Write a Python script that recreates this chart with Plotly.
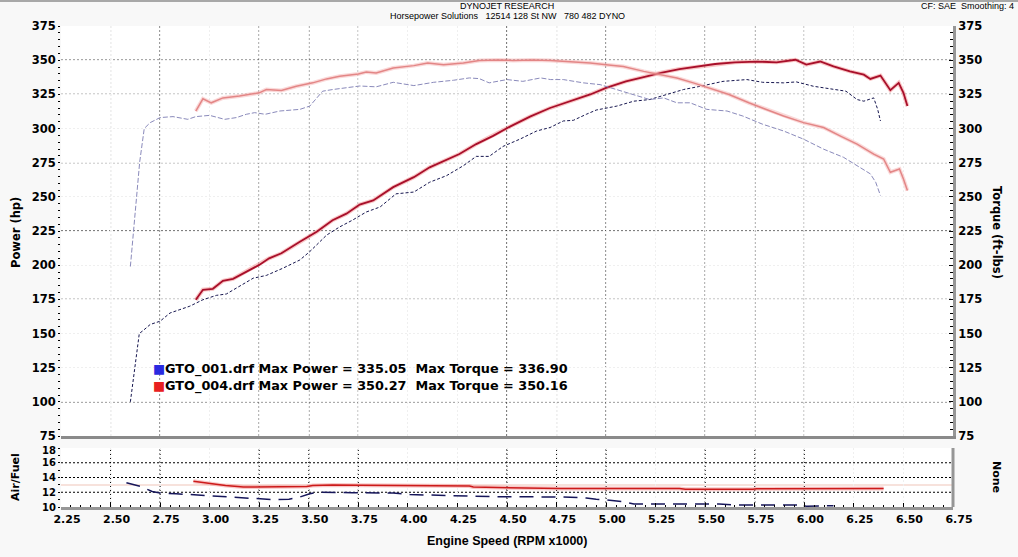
import plotly.graph_objects as go

# ---------------- data ----------------
# GTO_001 (blue) power, hp
blue_pw_rpm = [2.60, 2.625, 2.645, 2.663, 2.70, 2.75, 2.80, 2.85, 2.90, 2.966, 3.034, 3.084, 3.15, 3.22,
               3.286, 3.37, 3.455, 3.505, 3.59, 3.656, 3.72, 3.79, 3.86, 3.94, 4.03, 4.11, 4.195, 4.28,
               4.345, 4.41, 4.48, 4.565, 4.65, 4.717, 4.784, 4.835, 4.90, 4.95, 5.054, 5.14, 5.22, 5.31,
               5.39, 5.475, 5.59, 5.71, 5.79, 5.895, 5.96, 6.046, 6.147, 6.21, 6.266, 6.30, 6.35, 6.37, 6.384]
blue_pw_hp = [100, 130, 150, 152, 156.6, 159, 165, 167.5, 170, 174.7, 177.9, 178.9, 184.5, 190.5,
              192.5, 197.8, 203.8, 209.9, 222, 228, 232.9, 238.9, 242.6, 252.2, 253.5, 260.7, 265.5, 272.8,
              279.6, 279.6, 286.9, 292.2, 298.2, 300.7, 305.5, 306, 310.4, 313.5, 316.4, 320, 321.2, 324.9,
              328.5, 330.9, 334.5, 335.8, 333.8, 333.4, 334.1, 330.9, 328.5, 327.3, 321.2, 320, 322.4, 314, 305.5]

# GTO_001 (blue) torque, ft-lbs
blue_tq_rpm = [2.60, 2.647, 2.67, 2.70, 2.75, 2.815, 2.89, 2.93, 3.00, 3.076, 3.135, 3.185, 3.227, 3.28,
               3.354, 3.455, 3.505, 3.57, 3.62, 3.69, 3.757, 3.84, 3.926, 4.03, 4.13, 4.23, 4.31, 4.36,
               4.41, 4.50, 4.58, 4.67, 4.72, 4.784, 4.885, 4.97, 5.054, 5.14, 5.22, 5.29, 5.357, 5.424,
               5.508, 5.61, 5.69, 5.79, 5.895, 5.996, 6.097, 6.198, 6.266, 6.333, 6.36, 6.384]
blue_tq = [199, 275.5, 300, 304.3, 308, 308.7, 306.7, 308.7, 309.6, 306.7, 308, 310.4, 311.6, 310.4,
           312.8, 314, 316.4, 327.3, 328.5, 329.7, 331.1, 330.5, 333.8, 331.4, 333.8, 335.3, 337, 336.5,
           333.4, 335.8, 334.5, 337, 335.8, 335.8, 333.4, 332.1, 328.5, 325, 321.2, 322.4, 318.8, 318.8,
           314, 312.8, 309.1, 303.1, 298.2, 292.2, 284.9, 278.9, 272.8, 266.8, 260.7, 251]

# GTO_004 (red) power, hp
red_pw_rpm = [2.93, 2.966, 3.016, 3.067, 3.118, 3.185, 3.25, 3.30, 3.362, 3.455, 3.54, 3.62, 3.69, 3.757,
              3.825, 3.926, 4.03, 4.11, 4.18, 4.26, 4.345, 4.43, 4.515, 4.616, 4.717, 4.82, 4.92, 5.00,
              5.10, 5.205, 5.27, 5.37, 5.47, 5.55, 5.65, 5.76, 5.86, 5.955, 6.01, 6.08, 6.147, 6.23,
              6.30, 6.333, 6.384, 6.434, 6.476, 6.50, 6.52]
red_pw_hp = [174.7, 182, 182.7, 188.5, 190, 195.4, 200.2, 205, 208.7, 217.2, 224.4, 232.9, 237.7, 244.3,
             247.4, 257.1, 264.4, 271.6, 276.4, 281.3, 288.6, 294.6, 301.4, 308.7, 315, 320, 324.9, 329.7,
             334.5, 338.2, 340.6, 343.5, 345.4, 347.2, 348.4, 349, 348.4, 350.3, 346.7, 349, 345.4, 341.8,
             339.4, 336.3, 338.7, 328, 333.4, 326.1, 316.4]

# GTO_004 (red) torque, ft-lbs
red_tq_rpm = [2.93, 2.966, 3.008, 3.067, 3.15, 3.25, 3.286, 3.362, 3.437, 3.52, 3.59, 3.656, 3.75, 3.79,
              3.84, 3.926, 4.03, 4.10, 4.18, 4.28, 4.36, 4.45, 4.53, 4.63, 4.72, 4.82, 4.92, 5.00,
              5.087, 5.19, 5.27, 5.357, 5.44, 5.515, 5.62, 5.72, 5.81, 5.895, 5.996, 6.097, 6.18, 6.266,
              6.35, 6.40, 6.434, 6.48, 6.50, 6.52]
red_tq = [312.8, 321.7, 318.8, 322.4, 323.7, 326.1, 328.5, 327.8, 330.9, 333.4, 336.3, 338.2, 339.9, 341.4,
          340.6, 344.3, 346, 347.9, 346.7, 347.9, 349.8, 350.2, 349.8, 350.2, 349.8, 349, 347.9, 346.7,
          345.4, 341.8, 339.4, 337, 333.4, 329.7, 324.9, 318.8, 314, 309.1, 304.3, 300.7, 294.6, 288.6,
          281.3, 277.7, 268, 270.4, 263.1, 254.6]

# Air/Fuel
red_afr_rpm = [2.918, 3.016, 3.08, 3.17, 3.286, 3.39, 3.49, 3.52, 3.62, 3.757, 4.31, 4.33, 4.50, 4.75,
               4.77, 5.37, 5.40, 5.74, 5.76, 6.40]
red_afr = [13.5, 13.13, 12.9, 12.7, 12.7, 12.7, 12.78, 12.9, 13.0, 12.95, 12.85, 12.7, 12.65, 12.6,
           12.5, 12.5, 12.4, 12.4, 12.47, 12.5]
blue_afr_rpm = [2.58, 2.65, 2.71, 2.75, 2.83, 2.90, 3.05, 3.185, 3.32, 3.40, 3.455, 3.505, 3.54, 3.72,
                3.926, 4.01, 4.145, 4.36, 4.45, 4.77, 4.90, 4.95, 5.00, 5.087, 5.14, 5.39, 5.57, 5.67,
                5.97, 6.01, 6.147]
blue_afr = [13.3, 12.8, 12.1, 11.9, 11.8, 11.68, 11.45, 11.23, 11.0, 11.05, 11.36, 11.8, 12.0, 11.94,
            11.9, 11.68, 11.58, 11.5, 11.4, 11.36, 11.23, 11.05, 10.96, 10.7, 10.4, 10.4, 10.4, 10.26,
            10.26, 10.1, 10.17]
afr_reference = 13.0

# ticks and grid
x_tick_vals = [2.25, 2.50, 2.75, 3.00, 3.25, 3.50, 3.75, 4.00, 4.25, 4.50, 4.75, 5.00, 5.25,
               5.50, 5.75, 6.00, 6.25, 6.50, 6.75]
x_tick_text = ["2.25", "2.50", "2.75", "3.00", "3.25", "3.50", "3.75", "4.00", "4.25", "4.50",
               "4.75", "5.00", "5.25", "5.50", "5.75", "6.00", "6.25", "6.50", "6.75"]
power_tick_vals = [75, 100, 125, 150, 175, 200, 225, 250, 275, 300, 325, 350, 375]
afr_tick_vals = [10, 12, 14, 16]
afr_top_tick = [18]
dark_x_grid = [2.50, 2.75, 3.25, 3.50, 3.75, 4.50, 4.75, 5.00, 5.50, 5.75, 6.00]
dark_power_grid = [100, 150, 175, 225, 275, 300, 325, 350]
dark_afr_grid = [12, 14, 16]

legend_lines = ["GTO_001.drf Max Power = 335.05\u00a0\u00a0Max Torque = 336.90",
                "GTO_004.drf Max Power = 350.27\u00a0\u00a0Max Torque = 350.16"]
legend_colors = ["#2a2ae0", "#e82020"]

# ---------------- figure ----------------
W, H = 1018, 557
ML, MR, MT, MB = 61, 65, 26, 50
PW, PH = W - ML - MR, H - MT - MB


def px_x(p):
    return (p - ML) / PW


def px_y(p):
    return (H - MB - p) / PH


top_dom = [px_y(436), 1]
low_dom = [0, px_y(448)]

fig = go.Figure()

halo = dict(mode="lines", hoverinfo="skip", showlegend=False)
# red torque (light)
fig.add_trace(go.Scatter(x=red_tq_rpm, y=red_tq, xaxis="x", yaxis="y2",
                         line=dict(color="rgba(245,170,170,0.45)", width=4), **halo))
fig.add_trace(go.Scatter(x=red_tq_rpm, y=red_tq, xaxis="x", yaxis="y2", mode="lines",
                         line=dict(color="#e38686", width=1.5), name="GTO_004 torque"))
# blue torque (light)
fig.add_trace(go.Scatter(x=blue_tq_rpm, y=blue_tq, xaxis="x", yaxis="y2", mode="lines",
                         line=dict(color="#8a8abb", width=1, dash="5px,2px"), name="GTO_001 torque"))
# blue power (dark)
fig.add_trace(go.Scatter(x=blue_pw_rpm, y=blue_pw_hp, xaxis="x", yaxis="y", mode="lines",
                         line=dict(color="#16164f", width=1, dash="3px,2px"), name="GTO_001 power"))
# red power (dark)
fig.add_trace(go.Scatter(x=red_pw_rpm, y=red_pw_hp, xaxis="x", yaxis="y",
                         line=dict(color="rgba(240,110,110,0.4)", width=4), **halo))
fig.add_trace(go.Scatter(x=red_pw_rpm, y=red_pw_hp, xaxis="x", yaxis="y", mode="lines",
                         line=dict(color="#a80f2a", width=1.8), name="GTO_004 power"))
# AFR
fig.add_trace(go.Scatter(x=red_afr_rpm, y=red_afr, xaxis="x2", yaxis="y3",
                         line=dict(color="rgba(240,120,120,0.4)", width=4), **halo))
fig.add_trace(go.Scatter(x=red_afr_rpm, y=red_afr, xaxis="x2", yaxis="y3", mode="lines",
                         line=dict(color="#cc1a1a", width=1.5), name="GTO_004 AFR"))
fig.add_trace(go.Scatter(x=blue_afr_rpm, y=blue_afr, xaxis="x2", yaxis="y4", mode="lines",
                         line=dict(color="#16165a", width=1.5, dash="14px,8px"), name="GTO_001 AFR"))

tick_font = dict(family="DejaVu Sans", size=11.5, color="black", weight="bold")
afr_font = dict(tick_font, size=10)
faint = "#efefef"
gray_bar = "#969696"

fig.update_layout(
    width=W, height=H,
    margin=dict(l=ML, r=MR, t=MT, b=MB),
    paper_bgcolor="#f8f8f8", plot_bgcolor="white",
    showlegend=False,
    xaxis=dict(domain=[0, 1], anchor="y", range=[2.25, 6.75], tickvals=x_tick_vals,
               showticklabels=False, ticks="", showgrid=True, gridcolor=faint, griddash="2px,2px",
               showline=True, linecolor="#8a8a8a", linewidth=3, zeroline=False),
    xaxis2=dict(domain=[0, 1], anchor="y3", range=[2.25, 6.75], tickvals=x_tick_vals,
                ticktext=x_tick_text, ticks="inside", ticklen=4, tickcolor="black", tickwidth=1,
                minor=dict(tick0=2.25, dtick=0.05, ticks="inside", ticklen=2, tickcolor="black",
                           showgrid=False),
                showgrid=True, gridcolor=faint, griddash="2px,2px",
                showline=True, linecolor=gray_bar, linewidth=3, zeroline=False,
                tickfont=dict(family="DejaVu Sans", size=11, color="black", weight="bold"),
                ticklabelshift=6),
    yaxis=dict(domain=top_dom, anchor="x", range=[75, 375], tickvals=power_tick_vals,
               ticks="outside", ticklen=2, tickcolor="black",
               minor=dict(tick0=75, dtick=5, ticks="outside", ticklen=2, tickcolor="black",
                          showgrid=False),
               showgrid=True, gridcolor=faint, griddash="2px,2px", showline=False,
               zeroline=False, tickfont=tick_font),
    yaxis2=dict(overlaying="y", side="right", anchor="x", range=[75, 375],
                tickvals=power_tick_vals, ticks="inside", ticklen=4, tickcolor="black",
                minor=dict(tick0=75, dtick=5, ticks="inside", ticklen=3, tickcolor="black"),
                showgrid=False, showline=True, linecolor=gray_bar, linewidth=3,
                zeroline=False, tickfont=tick_font),
    yaxis3=dict(domain=low_dom, anchor="x2", range=[10, 18], tickvals=afr_tick_vals,
                ticks="outside", ticklen=2, tickcolor="black",
                minor=dict(tick0=10, dtick=1, ticks="outside", ticklen=2, tickcolor="black",
                           showgrid=False),
                showgrid=False, showline=False, zeroline=False, tickfont=afr_font),
    yaxis4=dict(overlaying="y3", side="left", anchor="x2", range=[10, 18], tickvals=afr_top_tick,
                ticks="outside", ticklen=2, tickcolor="black", showgrid=False, showline=False,
                zeroline=False, tickfont=afr_font, ticklabelshift=2),
)

shapes = []
grid_line = dict(color="black", width=1, dash="2px,2px")
for v in dark_x_grid:
    shapes.append(dict(type="line", xref="x", yref="y domain", x0=v, x1=v, y0=0, y1=1,
                       line=grid_line, layer="below"))
    shapes.append(dict(type="line", xref="x2", yref="y3 domain", x0=v, x1=v, y0=0, y1=1,
                       line=grid_line, layer="below"))
for v in dark_power_grid:
    shapes.append(dict(type="line", xref="x domain", yref="y", x0=0, x1=1, y0=v, y1=v,
                       line=grid_line, layer="below"))
for v in dark_afr_grid:
    shapes.append(dict(type="line", xref="x2 domain", yref="y3", x0=0, x1=1, y0=v, y1=v,
                       line=grid_line, layer="below"))
# faint reference line in AFR panel
shapes.append(dict(type="line", xref="x2 domain", yref="y3", x0=0, x1=1, y0=afr_reference,
                   y1=afr_reference, line=dict(color="#f7e2dc", width=2), layer="below"))
# right gray bar of the AFR panel
shapes.append(dict(type="line", xref="x2 domain", yref="y3 domain", x0=1, x1=1, y0=0, y1=1,
                   line=dict(color=gray_bar, width=3)))
# header strip
shapes.append(dict(type="line", xref="paper", yref="paper", x0=px_x(0), x1=px_x(W),
                   y0=px_y(1), y1=px_y(1), line=dict(color="#a8a8a8", width=2)))
fig.update_layout(shapes=shapes)

title_font = dict(family="DejaVu Sans", size=11.5, color="black", weight="bold")
small_font = dict(family="Liberation Sans", size=9, color="black")


def note(text, x, y, font, angle=0, xanchor="center"):
    return dict(text=text, xref="paper", yref="paper", x=px_x(x), y=px_y(y), textangle=angle,
                xanchor=xanchor, yanchor="middle", showarrow=False, font=font)


ann = [
    note("Power (hp)", 16, 233, title_font, -90),
    note("Torque (ft-lbs)", 997, 233, title_font, 90),
    note("Air/Fuel", 15, 477, dict(title_font, size=11), -90),
    note("None", 997, 477, dict(title_font, size=11), 90),
    note("Engine Speed (RPM x1000)", 507, 541,
         dict(family="Liberation Sans", size=12.5, color="black", weight="bold")),
    note("DYNOJET RESEARCH", 507, 6, small_font),
    note("Horsepower Solutions\u00a0\u00a0\u00a012514 128 St NW\u00a0\u00a0\u00a0780 482 DYNO",
         507, 16, small_font),
    note("CF: SAE\u00a0\u00a0Smoothing: 4", 1016, 6, small_font, xanchor="right"),
]
for i, (txt, col) in enumerate(zip(legend_lines, legend_colors)):
    ann.append(note("<span style='color:%s'>\u25A0</span>%s" % (col, txt), 151, 369 + 17 * i,
                    dict(family="DejaVu Sans", size=12.8, color="black", weight="bold"),
                    xanchor="left"))
fig.update_layout(annotations=ann)

fig.write_html("out.html")
